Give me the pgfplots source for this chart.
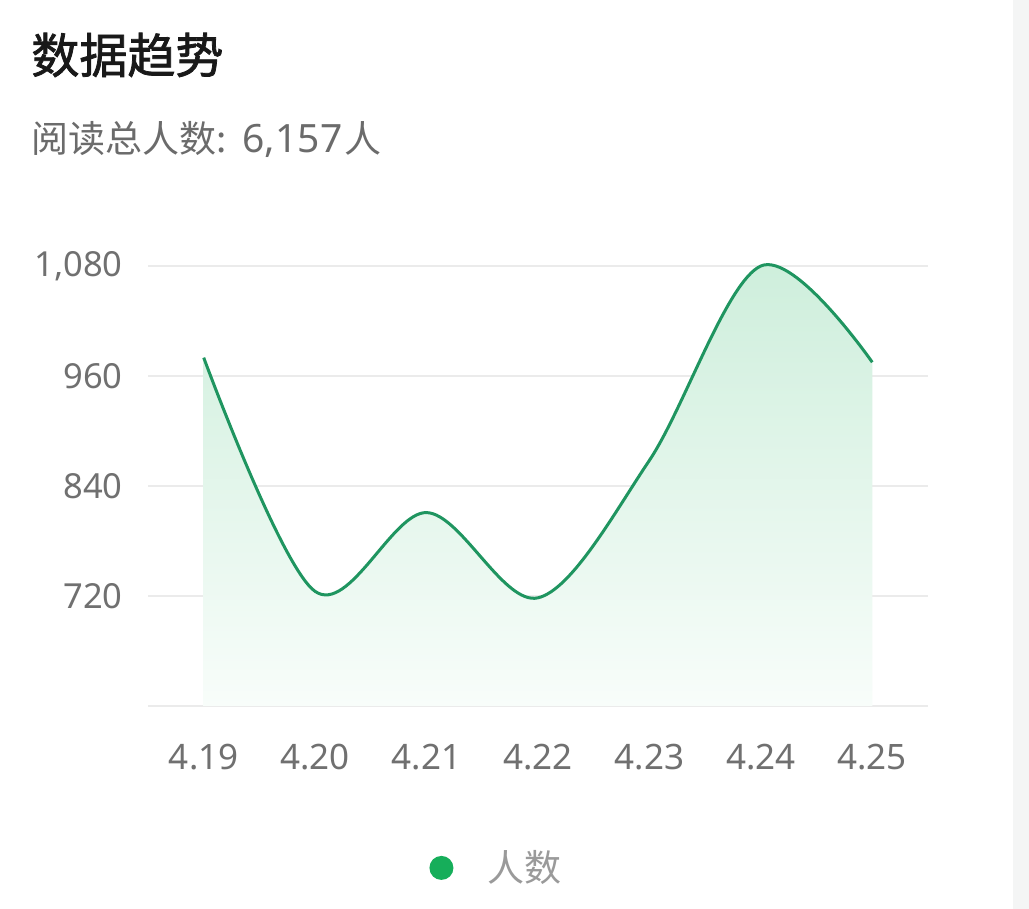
\documentclass[border=0pt]{standalone}
\usepackage{pgfplots}
\pgfplotsset{compat=1.18}
\usepackage{fontspec}
\setmainfont{Noto Sans CJK SC}
\newfontfamily\titlefont{Noto Sans CJK SC}[FakeBold=1.6]
\newfontfamily\numfont{Noto Sans}
\definecolor{linegreen}{HTML}{1F9560}
\definecolor{dotgreen}{HTML}{16AE5A}
\definecolor{gridgray}{HTML}{EBEBEB}
\definecolor{ticktext}{HTML}{707070}
\definecolor{subtext}{HTML}{6B6B6B}
\definecolor{legtext}{HTML}{9A9A9A}
\definecolor{sidebar}{HTML}{F4F5F5}
\definecolor{filltop}{HTML}{CDEEDB}
\definecolor{fillbot}{HTML}{F8FDFA}

\begin{document}
\begin{tikzpicture}
\useasboundingbox (0,0) rectangle (514.5pt,454.5pt);
\fill[white] (0,0) rectangle (514.5pt,454.5pt);
\fill[sidebar] (506.5pt,0) rectangle (514.5pt,454.5pt);

% title and subtitle
\node[anchor=west, inner sep=0pt, text=black!90] at (15.5pt,427pt)
  {\fontsize{24pt}{28pt}\titlefont 数据趋势};
\node[anchor=west, inner sep=0pt, text=subtext] at (15.5pt,385pt)
  {\fontsize{18.5pt}{22pt}\selectfont 阅读总人数:\hspace{8pt}{\numfont\fontsize{19.5pt}{22pt}\selectfont 6,157}\hspace{1pt}人};

\begin{axis}[
  at={(74pt,101.5pt)}, anchor=south west,
  scale only axis, width=390pt, height=220pt,
  xmin=-0.5, xmax=6.5,
  ymin=600, ymax=1080,
  axis line style={draw=none},
  major tick length=0pt,
  xtick={0,...,6},
  xticklabels={4.19,4.20,4.21,4.22,4.23,4.24,4.25},
  ytick={600,720,840,960,1080},
  yticklabels={,720,840,960,{1,080}},
  ymajorgrids,
  grid style={gridgray, line width=0.8pt},
  xticklabel style={anchor=center, inner sep=0pt, yshift=-25.5pt,
    text=ticktext, font=\fontsize{17.5pt}{20pt}\numfont},
  yticklabel style={anchor=east, inner sep=0pt, xshift=-12.5pt,
    text=ticktext, font=\fontsize{17.25pt}{20pt}\numfont},
  legend style={at={(0.3603,-0.368)}, anchor=west, draw=none, fill=none,
    inner sep=0pt, column sep=0pt,
    nodes={inner sep=0pt, anchor=west, text=legtext,
      font=\fontsize{18.5pt}{22pt}\selectfont}},
  legend image code/.code={
    \path[draw=none, fill=none] (0pt,0pt) -- (29pt,0pt);
    \fill[dotgreen, draw=none] (6pt,0pt) circle (6pt);
  },
  clip=false,
]
% area under the curve
\addplot[draw=none, smooth, tension=0.55, top color=filltop, bottom color=fillbot, forget plot]
  table {
x y
0 980
1 725
2 811
3 718
4 868
5 1080
6 975
} \closedcycle;
% line
\addplot[linegreen, line width=1.5pt, smooth, tension=0.55, forget plot]
  table {
x y
0 980
1 725
2 811
3 718
4 868
5 1080
6 975
};
\addlegendimage{dotgreen}
\addlegendentry{人数}
\end{axis}
\end{tikzpicture}
\end{document}
